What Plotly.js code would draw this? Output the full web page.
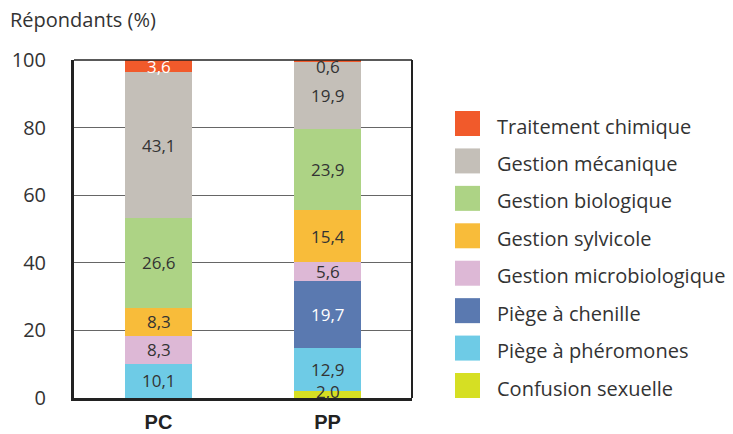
<!DOCTYPE html>
<html><head><meta charset="utf-8">
<script src="https://cdn.plot.ly/plotly-3.0.1.min.js"></script>
<style>html,body{margin:0;padding:0;background:#fff}</style>
</head><body><div id="chart" style="width:733px;height:434px"></div>
<script>
// ---- data ----
const categories = ['PC', 'PP'];
const seriesNames = ['Confusion sexuelle', 'Piège à phéromones', 'Piège à chenille', 'Gestion microbiologique',
  'Gestion sylvicole', 'Gestion biologique', 'Gestion mécanique', 'Traitement chimique'];
const confusion = [0, 2.0];
const pheromones = [10.1, 12.9];
const chenille = [0, 19.7];
const microbio = [8.3, 5.6];
const sylvicole = [8.3, 15.4];
const biologique = [26.6, 23.9];
const mecanique = [43.1, 19.9];
const chimique = [3.6, 0.6];
const yTickVals = [0, 20, 40, 60, 80, 100];
const yTickText = ['0', '20', '40', '60', '80', '100'];

// ---- styles ----
const seriesValues = [confusion, pheromones, chenille, microbio, sylvicole, biologique, mecanique, chimique];
const colors = ['#D6DF23', '#6ECBE6', '#5A79B0', '#DDB8D6', '#F8BC3A', '#ADD385', '#C4BFB8', '#F15A2B'];
const dark = '#333333';
const labelColors = [
  [dark, dark], [dark, dark], [dark, '#ffffff'], [dark, dark],
  [dark, dark], [dark, dark], [dark, dark], ['#ffffff', dark]
];
const fmt = v => v.toFixed(1).replace('.', ',');

const traces = seriesValues.map((vals, i) => ({
  type: 'bar',
  name: seriesNames[i],
  x: categories,
  y: vals,
  marker: {color: colors[i], line: {width: 0}},
  hoverinfo: 'skip'
}));

const shapes = [];
const annotations = [];

// ---- value labels at the middle of each segment, kept inside the plot ----
const labelMin = 2.0, labelMax = 98.2;
categories.forEach((cat, c) => {
  let base = 0;
  seriesValues.forEach((vals, i) => {
    const v = vals[c];
    if (v > 0) {
      const mid = Math.min(labelMax, Math.max(labelMin, base + v / 2));
      annotations.push({xref: 'x', yref: 'y', x: cat, y: mid, showarrow: false,
        xanchor: 'center', yanchor: 'middle', text: fmt(v),
        font: {family: 'Open Sans', size: 17, color: labelColors[i][c]}});
    }
    base += v;
  });
});

// ---- legend built from names/colours ----
const plotL = 74, plotT = 60, plotW = 338, plotH = 338;
const px2x = p => (p - plotL) / plotW;
const py2y = p => (plotT + plotH - p) / plotH;
const legendOrder = seriesNames.map((n, i) => i).reverse();
legendOrder.forEach((idx, k) => {
  const cy = 123.5 + k * 37.43;
  shapes.push({type: 'rect', xref: 'paper', yref: 'paper',
    x0: px2x(455), x1: px2x(480), y0: py2y(cy + 12.5), y1: py2y(cy - 12.5),
    fillcolor: colors[idx], line: {width: 0}});
  annotations.push({xref: 'paper', yref: 'paper', x: px2x(495), y: py2y(cy + 2.5),
    xanchor: 'left', yanchor: 'middle', showarrow: false, text: seriesNames[idx],
    font: {family: 'Open Sans', size: 20, color: dark}});
});
// right and top frame lines
shapes.push({type: 'line', xref: 'paper', yref: 'paper', x0: 1, x1: 1, y0: 0, y1: 1, line: {color: '#222', width: 2}});
shapes.push({type: 'line', xref: 'paper', yref: 'paper', x0: 0, x1: 1, y0: 1, y1: 1, line: {color: '#222', width: 1.5}});

const layout = {
  width: 733, height: 434,
  margin: {l: plotL, r: 733 - plotL - plotW, t: plotT, b: 434 - plotT - plotH, pad: 0},
  barmode: 'stack',
  bargap: 0.6,
  showlegend: false,
  paper_bgcolor: '#fff', plot_bgcolor: '#fff',
  title: {text: 'Répondants (%)', xref: 'container', yref: 'container', x: 10 / 733, xanchor: 'left',
    y: 1 - 20 / 434, yanchor: 'middle', font: {family: 'Open Sans', size: 20, color: dark}},
  xaxis: {type: 'category', range: [-0.5, 1.5], showline: true, linewidth: 3, linecolor: '#222',
    ticks: '', showgrid: false, zeroline: false, fixedrange: true, ticklabelstandoff: 4,
    tickfont: {family: 'Liberation Sans', size: 20, color: '#222', weight: 'bold'}},
  yaxis: {range: [0, 100], tickvals: yTickVals, ticktext: yTickText, showline: true, linewidth: 3,
    linecolor: '#222', ticks: '', showgrid: true, gridcolor: '#666', gridwidth: 1, zeroline: false,
    fixedrange: true, ticklabelstandoff: 21,
    tickfont: {family: 'Open Sans', size: 20, color: dark}},
  shapes: shapes,
  annotations: annotations,
  font: {family: 'Open Sans', color: dark}
};

Plotly.newPlot('chart', traces, layout, {displayModeBar: false, staticPlot: true});
</script>
</body></html>
